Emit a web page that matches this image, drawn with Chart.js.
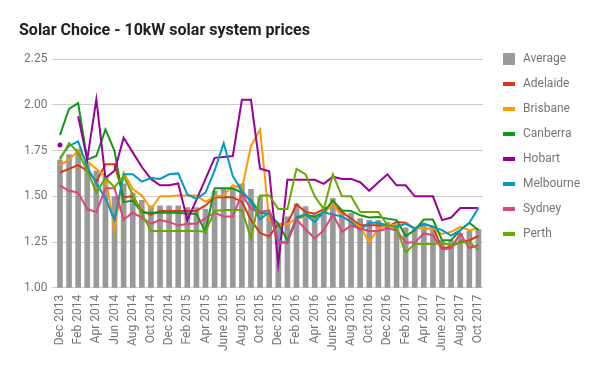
<!DOCTYPE html>
<html><head><meta charset="utf-8">
<script src="https://cdn.jsdelivr.net/npm/chart.js@4/dist/chart.umd.min.js"></script>
<style>html,body{margin:0;padding:0;background:#fff}#wrap{width:600px;height:371px}</style>
</head><body><div id="wrap"><canvas id="c" width="600" height="371"></canvas></div>
<script>
const categories = ["Dec 2013","Jan 2014","Feb 2014","Mar 2014","Apr 2014","May 2014","Jun 2014","Jul 2014","Aug 2014","Sep 2014","Oct 2014","Nov 2014","Dec 2014","Jan 2015","Feb 2015","Mar 2015","Apr 2015","May 2015","June 2015","July 2015","Aug 2015","Sep 2015","Oct 2015","Nov 2015","Dec 2015","Jan 2016","Feb 2016","Mar 2016","Apr 2016","May 2016","June 2016","July 2016","Aug 2016","Sep 2016","Oct 2016","Nov 2016","Dec 2016","Jan 2017","Feb 2017","Mar 2017","Apr 2017","May 2017","June 2017","July 2017","Aug 2017","Sep 2017","Oct 2017"];

const average   = [1.70,1.73,1.76,1.69,1.64,1.61,1.50,1.57,1.52,1.48,1.45,1.45,1.45,1.45,1.44,1.44,1.43,1.53,1.54,1.54,1.57,1.54,1.50,1.41,1.35,1.39,1.46,1.445,1.40,1.42,1.49,1.42,1.41,1.38,1.37,1.37,1.36,1.35,1.33,1.32,1.35,1.34,1.26,1.26,1.30,1.31,1.32];
const adelaide  = [1.63,1.65,1.67,1.64,1.58,1.675,1.675,1.495,1.50,1.42,1.40,1.42,1.42,1.42,1.42,1.42,1.45,1.495,1.495,1.495,1.47,1.37,1.30,1.28,1.35,1.35,1.456,1.414,1.405,1.43,1.456,1.414,1.378,1.342,1.342,1.342,1.333,1.36,1.355,1.324,1.35,1.333,1.216,1.225,1.25,1.26,1.283];
const brisbane  = [1.67,1.70,1.75,1.69,1.65,1.61,1.32,1.63,1.54,1.505,1.43,1.50,1.50,1.505,1.505,1.505,1.47,1.50,1.505,1.56,1.54,1.775,1.865,1.37,1.35,1.348,1.378,1.387,1.387,1.405,1.46,1.387,1.366,1.333,1.25,1.324,1.342,1.342,1.35,1.324,1.324,1.324,1.294,1.306,1.333,1.315,1.324];
const canberra  = [1.834,1.978,2.009,1.70,1.72,1.865,1.748,1.468,1.477,1.41,1.41,1.41,1.41,1.41,1.405,1.405,1.306,1.544,1.544,1.544,1.52,1.477,1.41,1.405,1.35,1.26,1.38,1.40,1.387,1.414,1.477,1.423,1.42,1.396,1.384,1.387,1.378,1.37,1.283,1.315,1.373,1.373,1.26,1.26,1.315,1.355,1.315];
const hobart    = [1.78,null,1.937,1.70,2.03,1.60,1.64,1.82,1.74,1.66,1.595,1.56,1.56,1.57,1.37,1.48,1.595,1.71,1.715,1.72,2.027,2.027,1.65,1.636,1.13,1.59,1.59,1.59,1.59,1.568,1.607,1.595,1.595,1.577,1.53,1.577,1.62,1.56,1.56,1.50,1.50,1.50,1.37,1.384,1.436,1.436,1.436];
const melbourne = [1.71,1.775,1.80,1.66,1.57,1.49,1.37,1.62,1.62,1.58,1.60,1.595,1.62,1.625,1.51,1.486,1.52,1.64,1.79,1.61,1.53,1.47,1.373,1.414,1.26,1.243,1.387,1.40,1.36,1.414,1.40,1.39,1.36,1.315,1.355,1.355,1.34,1.333,1.35,1.324,1.35,1.333,1.315,1.285,1.315,1.355,1.436];
const sydney    = [1.56,1.53,1.52,1.43,1.414,1.544,1.544,1.373,1.41,1.384,1.35,1.37,1.36,1.34,1.35,1.35,1.38,1.41,1.39,1.39,1.514,1.43,1.414,1.423,1.243,1.25,1.373,1.32,1.27,1.315,1.40,1.306,1.34,1.324,1.31,1.31,1.324,1.315,1.247,1.247,1.297,1.288,1.21,1.216,1.297,1.216,1.234];
const perth     = [1.70,1.79,1.74,1.64,1.52,1.60,1.55,1.61,1.51,1.405,1.31,1.31,1.31,1.31,1.31,1.31,1.306,1.42,1.425,1.425,1.425,1.27,1.505,1.505,1.43,1.43,1.65,1.62,1.50,1.43,1.62,1.50,1.50,1.414,1.414,1.414,1.342,1.324,1.193,1.24,1.24,1.24,1.243,1.234,1.247,1.25,1.207];

const seriesNames  = ["Adelaide","Brisbane","Canberra","Hobart","Melbourne","Sydney","Perth"];
const seriesValues = [adelaide, brisbane, canberra, hobart, melbourne, sydney, perth];
const seriesColors = ["#dc3912","#ff9900","#109618","#990099","#0099c6","#dd4477","#66aa00"];
const averageColor = "#999999";
const yMin = 1.00, yMax = 2.25, yStep = 0.25;
const titleText = "Solar Choice - 10kW solar system prices";

function marker(color, h) {
  const c = document.createElement('canvas');
  c.width = 21; c.height = 12;
  const g = c.getContext('2d');
  g.fillStyle = color;
  g.fillRect(7, (12 - h) / 2, 12, h);
  return c;
}
const markers = [marker(averageColor, 12)].concat(seriesColors.map(c => marker(c, 4)));

function isolatedRadius(ctx) {
  const d = ctx.dataset.data, i = ctx.dataIndex;
  if (d[i] == null) return 0;
  const prev = i > 0 ? d[i - 1] : null, next = i < d.length - 1 ? d[i + 1] : null;
  return (prev == null && next == null) ? 2.5 : 0;
}

const datasets = [{
  type: 'bar', label: 'Average', data: average, backgroundColor: averageColor,
  barPercentage: 0.62, categoryPercentage: 1.0, order: 100
}].concat(seriesNames.map((n, k) => ({
  type: 'line', label: n, data: seriesValues[k], borderColor: seriesColors[k],
  backgroundColor: seriesColors[k], borderWidth: 2, tension: 0, fill: false,
  pointRadius: isolatedRadius, pointHoverRadius: 0, pointBorderWidth: 0,
  spanGaps: false, order: seriesNames.length - k
})));

Chart.defaults.font.family = 'Roboto';
new Chart(document.getElementById('c'), {
  data: { labels: categories, datasets },
  options: {
    responsive: false, animation: false, devicePixelRatio: 1,
    layout: { padding: { left: 19, right: 10, top: 0, bottom: 13 } },
    plugins: {
      tooltip: { enabled: false },
      title: { display: true, text: titleText, align: 'start', color: '#212121',
        font: { size: 16, weight: 'bold' }, padding: { top: 21.4, bottom: 18.4 } },
      legend: {
        position: 'right', align: 'start',
        title: { display: true, text: ' ', font: { size: 10, lineHeight: 1 }, padding: { top: 30, bottom: 0 } },
        labels: {
          usePointStyle: true, pointStyleWidth: 21, boxHeight: 12, padding: 13,
          color: '#757575', font: { size: 12 },
          generateLabels: (chart) => {
            const items = Chart.defaults.plugins.legend.labels.generateLabels(chart);
            items.sort((a, b) => a.datasetIndex - b.datasetIndex);
            items.forEach(it => { it.pointStyle = markers[it.datasetIndex]; });
            return items;
          }
        }
      }
    },
    scales: {
      x: {
        grid: { display: false, drawTicks: false }, border: { display: false },
        ticks: { autoSkip: false, minRotation: 90, maxRotation: 90, padding: 7, color: '#757575',
          font: { size: 12 }, callback: (v, i) => (i % 2 === 0 ? categories[i] : '') }
      },
      y: {
        min: yMin, max: yMax,
        grid: { color: '#cccccc', lineWidth: 1, drawTicks: true, tickLength: 3 },
        border: { display: false },
        ticks: { stepSize: yStep, padding: 5, color: '#757575', font: { size: 12 },
          callback: v => v.toFixed(2) }
      }
    }
  }
});
</script></body></html>
